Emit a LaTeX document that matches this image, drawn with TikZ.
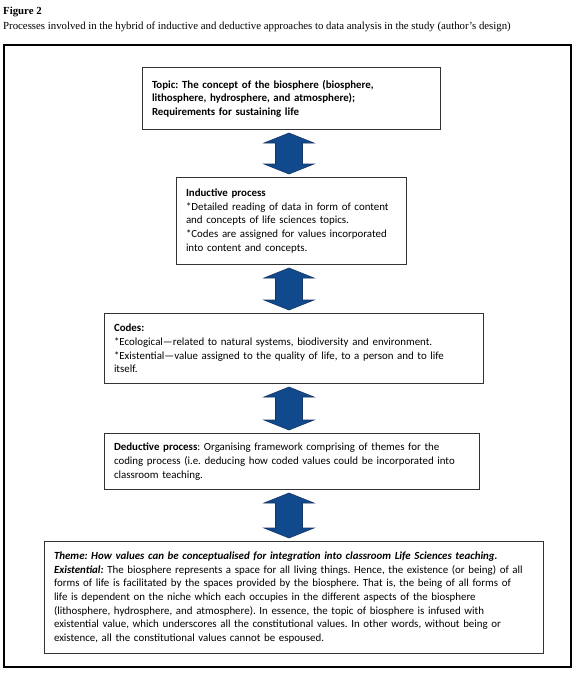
\documentclass[tikz,border=0pt]{standalone}
\usepackage{fontspec}
\setmainfont{Liberation Serif}
\newfontfamily\calibri{Carlito}
\usepackage{tikz}
\usetikzlibrary{calc}

\definecolor{arrowblue}{RGB}{16,73,140}
\definecolor{arrowedge}{RGB}{22,52,102}

\tikzset{
  box/.style={draw=black!80, line width=1pt, anchor=north west, inner xsep=9.5pt,
    inner ysep=3pt, align=left, font=\calibri\fontsize{10.9}{13.6}\selectfont},
  caption/.style={anchor=base west, inner sep=0pt, font=\fontsize{10.8}{12}\selectfont},
  blockarrow/.style={fill=arrowblue, draw=arrowedge, line width=0.6pt, line join=miter},
}

% double block arrow between two boxes, on the axis
\newcommand{\updown}[2]{%
  \filldraw[blockarrow] let \p1=($(#1.south -| axis)+(0,-3pt)$), \p2=($(#2.north -| axis)+(0,3pt)$) in
    (\p1) -- (\x1+25pt,\y1-10pt) -- (\x1+13.5pt,\y1-10pt) -- (\x1+13.5pt,\y2+10pt)
    -- (\x1+25pt,\y2+10pt) -- (\p2) -- (\x1-25pt,\y2+10pt) -- (\x1-13.5pt,\y2+10pt)
    -- (\x1-13.5pt,\y1-10pt) -- (\x1-25pt,\y1-10pt) -- cycle;}

\frenchspacing

\begin{document}
\begin{tikzpicture}[x=1pt, y=-1pt]
  \useasboundingbox (0,0) rectangle (580,673);

  \node[caption] (fig) at (3,14) {\bfseries Figure 2};
  \node[caption] (cap) at (3,29) {Processes involved in the hybrid of inductive and deductive approaches to data analysis in the study (author's design)};

  \draw[line width=2pt] (4,45) rectangle (571,667);

  \coordinate (axis) at (289,0);

  \node[box, text width=279pt, minimum height=62pt] (topic) at (142,67)
    {\bfseries Topic: The concept of the biosphere (biosphere,\\
     \bfseries lithosphere, hydrosphere, and atmosphere);\\
     \bfseries Requirements for sustaining life\par\vspace{13pt}};

  \node[box, text width=211pt, minimum height=87pt] (induct) at (176,177)
    {\textbf{Inductive process}\\
     {*}Detailed reading of data in form of content\\
     and concepts of life sciences topics.\\
     {*}Codes are assigned for values incorporated\\
     into content and concepts.\par\vspace{5pt}};

  \node[box, text width=360pt, minimum height=70pt] (codes) at (104,313)
    {\textbf{Codes:}\\
     {*}Ecological\textemdash related to natural systems, biodiversity and environment.\\
     {*}Existential\textemdash value assigned to the quality of life, to a person and to life\\
     itself.\par\vspace{7pt}};

  \node[box, text width=356pt, minimum height=56pt] (deduct) at (104,433)
    {\textbf{Deductive process}: Organising framework comprising of themes for the\\
     coding process (i.e. deducing how coded values could be incorporated into\\
     classroom teaching.};

  \node[box, text width=480pt, minimum height=112pt] (theme) at (44,541)
    {\textbf{\itshape Theme: How values can be conceptualised for integration into classroom Life Sciences teaching.}\\
     \textbf{\itshape Existential:} The biosphere represents a space for all living things. Hence, the existence (or being) of all\\
     forms of life is facilitated by the spaces provided by the biosphere. That is, the being of all forms of\\
     life is dependent on the niche which each occupies in the different aspects of the biosphere\\
     (lithosphere, hydrosphere, and atmosphere). In essence, the topic of biosphere is infused with\\
     existential value, which underscores all the constitutional values. In other words, without being or\\
     existence, all the constitutional values cannot be espoused.};

  \updown{topic}{induct}
  \updown{induct}{codes}
  \updown{codes}{deduct}
  \updown{deduct}{theme}
\end{tikzpicture}
\end{document}
